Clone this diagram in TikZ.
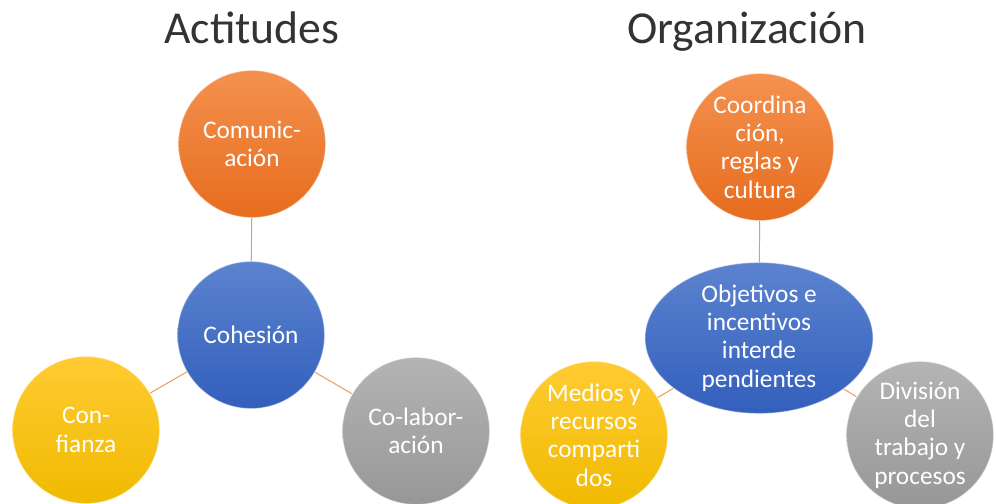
\documentclass[tikz,border=0pt]{standalone}
\usepackage{fontspec}
\setmainfont{Carlito}
\usetikzlibrary{shapes.geometric}

\definecolor{naranjaA}{HTML}{F4914F}
\definecolor{naranjaB}{HTML}{E76C1E}
\definecolor{azulA}{HTML}{5B83CF}
\definecolor{azulB}{HTML}{335FBC}
\definecolor{amarilloA}{HTML}{FFCB32}
\definecolor{amarilloB}{HTML}{F0BA00}
\definecolor{grisA}{HTML}{B4B4B4}
\definecolor{grisB}{HTML}{979797}
\definecolor{enlace}{HTML}{ED7D31}

\tikzset{
    bubble/.style={
        circle,minimum size=3.68cm,inner sep=0pt,
        align=center,text=white,
        draw=white,draw opacity=.45,line width=.8pt,
        font=\fontsize{18}{20.2}\selectfont
    },
    naranja/.style={bubble,top color=naranjaA,bottom color=naranjaB},
    azul/.style={bubble,top color=azulA,bottom color=azulB},
    amarillo/.style={bubble,top color=amarilloA,bottom color=amarilloB},
    gris/.style={bubble,top color=grisA,bottom color=grisB},
    title/.style={anchor=base,font=\fontsize{32.5}{36}\selectfont,text=black!80},
    link/.style={enlace!80,line width=.7pt}
}

\begin{document}
\begin{tikzpicture}[x=0.025cm,y=-0.025cm]
        \useasboundingbox (0,0) rectangle (996,504);
        % Actitudes
        \node[title] (tact) at (252,44) {Actitudes};
        \node[naranja] (com) at (252,144) {Comunic-\\ación};
        \node[azul] (coh) at (251,335) {Cohesión};
        \node[amarillo] (conf) at (86,430) {Con-\\fianza};
        \node[gris] (colab) at (416,431) {Co-labor-\\ación};
        \foreach \n in {com,conf,colab}
            \draw[link] (coh) -- (\n);
        % Organizacion
        \node[title] (torg) at (747,44) {Organización};
        \node[naranja] (coord) at (760,147) {Coordina\\ción,\\reglas y\\cultura};
        \node[azul,ellipse,minimum width=5.7cm,minimum height=3.68cm] (obj) at (759,338)
            {Objetivos e\\incentivos\\interde\\pendientes};
        \node[amarillo] (medios) at (594,435) {Medios y\\recursos\\comparti\\dos};
        \node[gris] (div) at (920,435) {División\\del\\trabajo y\\procesos};
        \foreach \n in {coord,medios,div}
            \draw[link] (obj) -- (\n);
    \end{tikzpicture}
\end{document}
